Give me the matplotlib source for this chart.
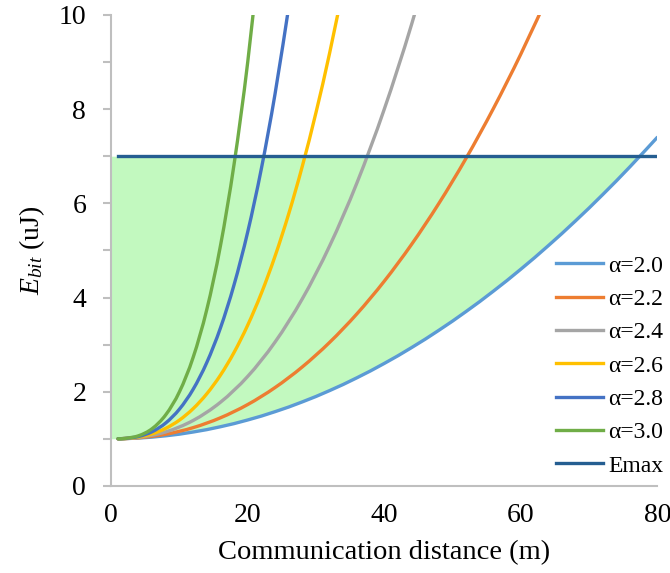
import matplotlib
matplotlib.use("Agg")
import matplotlib.pyplot as plt
from matplotlib.path import Path
from matplotlib.patches import PathPatch
from matplotlib.lines import Line2D
from matplotlib.ticker import MultipleLocator

plt.rcParams['font.family'] = ['Liberation Serif', 'DejaVu Serif']
plt.rcParams['mathtext.fontset'] = 'custom'
plt.rcParams['mathtext.rm'] = 'Liberation Serif'
plt.rcParams['mathtext.it'] = 'Liberation Serif:italic'

# distancia (m) y energia por bit (uJ)
d_20 = [1, 4, 8, 12, 16, 20, 24, 28, 32, 36, 40, 44, 48, 52, 56, 60, 64, 68, 72, 76, 80]
e_20 = [1.001, 1.016, 1.064, 1.144, 1.256, 1.40, 1.576, 1.784, 2.024, 2.296, 2.60,
        2.936, 3.304, 3.704, 4.136, 4.60, 5.096, 5.624, 6.184, 6.776, 7.40]

d_22 = [1, 4, 8, 12, 16, 20, 24, 28, 32, 36, 40, 44, 48, 52, 56, 60, 64]
e_22 = [1.001, 1.021, 1.097, 1.237, 1.446, 1.728, 2.088, 2.527, 3.048, 3.654, 4.346,
        5.127, 5.997, 6.959, 8.015, 9.165, 10.41]

d_24 = [1, 4, 8, 12, 16, 20, 24, 28, 32, 36, 40, 44, 48]
e_24 = [1.001, 1.028, 1.147, 1.389, 1.776, 2.326, 3.054, 3.973, 5.096, 6.434, 7.997,
        9.796, 11.84]

d_26 = [1, 2, 4, 6, 8, 10, 12, 14, 16, 18, 20, 22, 24, 26, 28, 30, 32, 34]
e_26 = [1.001, 1.006, 1.037, 1.105, 1.223, 1.398, 1.640, 1.955, 2.351, 2.835, 3.414,
        4.092, 4.877, 5.775, 6.789, 7.927, 9.192, 10.591]

d_28 = [1, 2, 4, 6, 8, 10, 12, 14, 16, 18, 20, 22, 24, 26]
e_28 = [1.001, 1.007, 1.049, 1.151, 1.338, 1.631, 2.051, 2.619, 3.353, 4.272, 5.394,
        6.738, 8.321, 10.161]

d_30 = [1, 2, 4, 6, 8, 10, 12, 14, 16, 18, 20, 22]
e_30 = [1.001, 1.008, 1.064, 1.216, 1.512, 2.0, 2.728, 3.744, 5.096, 6.832, 9.0, 11.648]

d_emax = [1, 80]
emax = 7.0

series = [
    ("α=2.0", d_20, e_20, "#5b9bd5"),
    ("α=2.2", d_22, e_22, "#ed7d31"),
    ("α=2.4", d_24, e_24, "#a5a5a5"),
    ("α=2.6", d_26, e_26, "#ffc000"),
    ("α=2.8", d_28, e_28, "#4472c4"),
    ("α=3.0", d_30, e_30, "#70ad47"),
]


def linea_suave(ax, xs, ys, color, lw):
    # linea suavizada tipo Excel (Catmull-Rom como curvas Bezier)
    pts = list(zip(xs, ys))
    n = len(pts)
    verts = [pts[0]]
    codes = [Path.MOVETO]
    for i in range(n - 1):
        p0 = pts[max(i - 1, 0)]
        p1 = pts[i]
        p2 = pts[i + 1]
        p3 = pts[min(i + 2, n - 1)]
        c1 = (p1[0] + (p2[0] - p0[0]) / 6, p1[1] + (p2[1] - p0[1]) / 6)
        c2 = (p2[0] - (p3[0] - p1[0]) / 6, p2[1] - (p3[1] - p1[1]) / 6)
        verts += [c1, c2, p2]
        codes += [Path.CURVE4] * 3
    ax.add_patch(PathPatch(Path(verts, codes), facecolor="none", edgecolor=color,
                           lw=lw, zorder=3, capstyle="round", joinstyle="round"))


fig = plt.figure(figsize=(6.7, 5.73), dpi=100)
ax = fig.add_axes([0.166, 0.152, 0.815, 0.822])

# zona permitida entre la curva alfa=2 y Emax
x_fill = [0] + d_20
y_fill = [e_20[0]] + e_20
ax.fill_between(x_fill, y_fill, [emax] * len(x_fill),
                where=[y <= emax for y in y_fill], interpolate=True,
                color="#c2f9bf", linewidth=0, zorder=1)

handles = []
for nombre, d, e, color in series:
    linea_suave(ax, d, e, color, 2.4)
    handles.append(Line2D([], [], color=color, lw=2.4, label=nombre))
ax.plot(d_emax, [emax, emax], color="#255e91", lw=2.4, zorder=4)
handles.append(Line2D([], [], color="#255e91", lw=2.4, label="Emax"))

ax.set_xlim(0, 80)
ax.set_ylim(0, 10)
ax.xaxis.set_major_locator(MultipleLocator(20))
ax.yaxis.set_major_locator(MultipleLocator(2))
ax.yaxis.set_minor_locator(MultipleLocator(1))

for s in ["top", "right"]:
    ax.spines[s].set_visible(False)
for s in ["left", "bottom"]:
    ax.spines[s].set_color("#bfbfbf")
    ax.spines[s].set_linewidth(1.5)

ax.tick_params(axis="x", length=0, pad=12, labelsize=20, colors="#bfbfbf", labelcolor="black")
ax.tick_params(axis="y", which="both", length=6, width=1.5, pad=12, labelsize=20,
               colors="#bfbfbf", labelcolor="black")

ax.set_xlabel("Communication distance (m)", fontsize=20.5, labelpad=9)
ax.set_ylabel(r"$E_{bit}$ (uJ)", fontsize=20, labelpad=8)

ax.legend(handles=handles, loc="upper left", bbox_to_anchor=(0.83, 0.555),
          bbox_transform=fig.transFigure, frameon=False, fontsize=17,
          handlelength=2.0, handletextpad=0.2, labelspacing=0.5,
          borderpad=0, borderaxespad=0)

fig.savefig("out.png", dpi=100)
